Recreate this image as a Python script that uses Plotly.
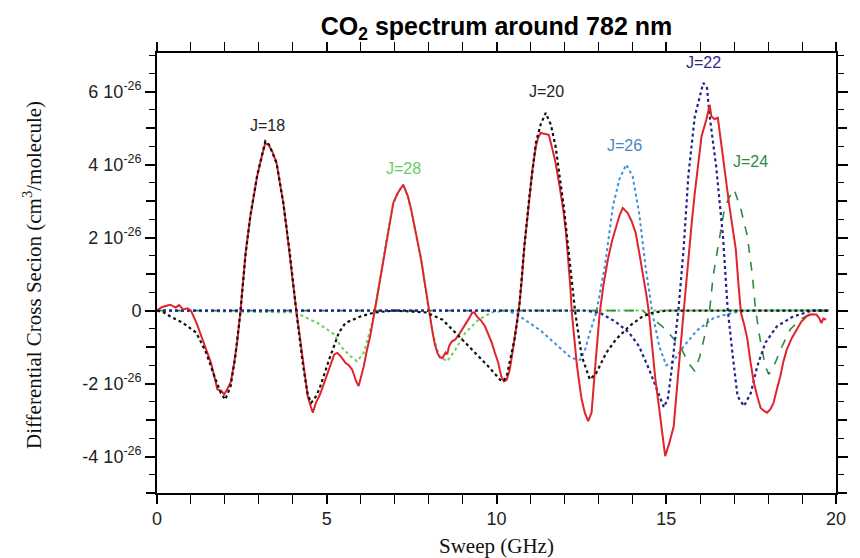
import plotly.graph_objects as go
import numpy as np

SCALE = 1e-26  # values below are in units of 1e-26 cm^3/molecule

# Measured spectrum (red)
meas_x = [0.0, 0.15, 0.39, 0.55, 0.65, 0.77, 0.9, 1.0, 1.16, 1.35, 1.5, 1.59, 1.7, 1.78, 1.9, 1.98, 2.07, 2.17,
          2.27, 2.36, 2.46, 2.61, 2.75, 2.85, 2.95, 3.08, 3.19, 3.28, 3.4, 3.52, 3.62, 3.72, 3.81, 3.91, 4.0, 4.1,
          4.2, 4.3, 4.44, 4.52, 4.59, 4.68, 4.8, 4.93, 5.08, 5.22, 5.31, 5.41, 5.55, 5.65, 5.75, 5.87, 5.94, 6.02,
          6.09, 6.18, 6.28, 6.42, 6.57, 6.76, 6.96, 7.08, 7.15, 7.25, 7.32, 7.39, 7.48, 7.58, 7.68, 7.78, 7.88,
          7.97, 8.05, 8.12, 8.19, 8.26, 8.33, 8.41, 8.5, 8.55, 8.6, 8.68, 8.79, 8.9, 8.99, 9.1, 9.2, 9.28, 9.35,
          9.42, 9.55, 9.66, 9.76, 9.86, 9.95, 10.05, 10.14, 10.22, 10.3, 10.39, 10.48, 10.58, 10.67, 10.75, 10.82,
          10.9, 10.97, 11.05, 11.16, 11.23, 11.3, 11.42, 11.54, 11.64, 11.74, 11.86, 11.98, 12.05, 12.12, 12.17,
          12.22, 12.29, 12.36, 12.44, 12.51, 12.6, 12.7, 12.8, 12.85, 12.9, 12.97, 13.04, 13.15, 13.28, 13.4,
          13.52, 13.62, 13.72, 13.8, 13.86, 13.98, 14.1, 14.22, 14.35, 14.42, 14.49, 14.58, 14.68, 14.78, 14.88,
          14.97, 15.1, 15.22, 15.29, 15.36, 15.44, 15.51, 15.58, 15.65, 15.75, 15.84, 15.94, 16.04, 16.18, 16.25,
          16.28, 16.33, 16.42, 16.52, 16.6, 16.67, 16.76, 16.86, 16.95, 17.05, 17.12, 17.2, 17.3, 17.39, 17.48,
          17.58, 17.68, 17.78, 17.88, 17.97, 18.07, 18.16, 18.26, 18.36, 18.45, 18.55, 18.7, 18.84, 18.98, 19.13,
          19.27, 19.42, 19.5, 19.57, 19.63, 19.71]
meas_y = [0.0, 0.1, 0.16, 0.08, 0.15, 0.03, 0.06, 0.0, -0.33, -0.8, -1.2, -1.43, -1.85, -2.16, -2.2, -2.3, -2.15,
          -1.97, -1.45, -0.88, 0.0, 1.59, 2.58, 3.1, 3.68, 4.2, 4.59, 4.55, 4.35, 4.05, 3.55, 2.95, 2.3, 1.59, 0.8,
          0.03, -0.7, -1.43, -2.35, -2.6, -2.8, -2.53, -2.3, -1.97, -1.6, -1.2, -1.16, -1.25, -1.43, -1.5, -1.62,
          -1.95, -2.07, -1.8, -1.53, -1.1, -0.7, 0.03, 0.85, 1.95, 2.95, 3.2, 3.32, 3.45, 3.3, 3.13, 2.8, 2.31,
          1.9, 1.4, 0.8, 0.21, -0.2, -0.61, -0.95, -1.16, -1.28, -1.3, -1.15, -1.2, -0.98, -0.85, -0.79, -0.65,
          -0.52, -0.35, -0.2, -0.06, -0.05, -0.16, -0.28, -0.43, -0.65, -0.88, -1.15, -1.43, -1.8, -1.94, -1.9,
          -1.62, -1.1, -0.52, 0.12, 0.9, 1.76, 2.45, 3.13, 3.8, 4.5, 4.75, 4.87, 4.85, 4.82, 4.45, 4.05, 3.4,
          2.68, 2.1, 1.4, 0.7, -0.06, -0.75, -1.43, -2.0, -2.44, -2.8, -3.03, -2.8, -2.3, -1.62, -0.85, -0.06,
          0.7, 1.4, 1.9, 2.31, 2.6, 2.81, 2.72, 2.68, 2.45, 2.13, 1.5, 0.85, 0.4, -0.06, -0.9, -1.89, -2.6, -3.35,
          -3.99, -3.6, -3.17, -2.4, -1.53, -0.8, -0.06, 0.7, 1.49, 2.4, 3.22, 4.0, 4.78, 5.23, 5.5, 5.64, 5.32,
          5.25, 5.28, 4.7, 4.14, 3.5, 2.86, 2.3, 1.67, 0.8, -0.06, -0.4, -0.79, -1.4, -1.98, -2.35, -2.67, -2.75,
          -2.8, -2.7, -2.53, -2.15, -1.8, -1.4, -1.07, -0.75, -0.52, -0.3, -0.16, -0.1, -0.11, -0.2, -0.34, -0.22,
          -0.25]

# Simulated J=18 / J=20 (black)
j1820_x = [0.0, 0.2, 0.39, 0.77, 1.16, 1.45, 1.69, 1.88, 2.01, 2.17, 2.3, 2.45, 2.61, 2.75, 2.95, 3.08, 3.19, 3.3,
           3.52, 3.72, 3.91, 4.1, 4.3, 4.44, 4.54, 4.65, 4.78, 5.07, 5.17, 5.36, 5.55, 5.99, 6.42, 7.0, 7.92, 8.41,
           8.89, 9.37, 9.76, 10.1, 10.2, 10.3, 10.53, 10.67, 10.82, 10.97, 11.16, 11.3, 11.45, 11.6, 11.74, 11.98,
           12.17, 12.32, 12.51, 12.75, 12.94, 13.23, 13.52, 13.91, 14.3, 14.59, 15.0, 19.8]
j1820_y = [0.0, -0.05, -0.16, -0.34, -0.61, -1.16, -1.8, -2.26, -2.44, -2.07, -1.3, -0.1, 1.55, 2.6, 3.7, 4.25,
           4.64, 4.55, 4.05, 2.95, 1.59, 0.0, -1.5, -2.3, -2.53, -2.4, -2.16, -1.34, -1.07, -0.6, -0.34, -0.16,
           -0.05, 0.0, -0.05, -0.25, -0.7, -1.16, -1.53, -1.89, -1.94, -1.8, -0.79, 0.1, 1.76, 3.13, 4.6, 5.1,
           5.42, 5.1, 4.5, 2.86, 1.21, -0.06, -1.25, -1.89, -1.71, -1.16, -0.79, -0.43, -0.16, -0.06, 0.0, 0.0]

# Simulated J=28 (light green)
j28_x = [0.0, 4.06, 4.73, 5.22, 5.41, 5.7, 5.89, 6.09, 6.23, 6.38, 6.57, 6.76, 6.96, 7.15, 7.25, 7.39, 7.58, 7.78,
         7.97, 8.12, 8.31, 8.55, 8.79, 9.08, 9.47, 9.86, 10.3, 19.8]
j28_y = [0.0, -0.05, -0.34, -0.65, -0.98, -1.25, -1.39, -1.16, -0.7, -0.16, 0.85, 1.95, 2.95, 3.32, 3.42, 3.13,
         2.31, 1.4, 0.21, -0.61, -1.25, -1.39, -1.07, -0.61, -0.25, -0.05, 0.0, 0.0]

# Simulated J=26 (light blue)
j26_x = [0.0, 10.3, 10.6, 10.92, 11.3, 11.6, 12.0, 12.2, 12.46, 12.6, 12.75, 12.94, 13.19, 13.43, 13.62, 13.82,
         14.01, 14.2, 14.39, 14.59, 14.8, 15.0, 15.2, 15.5, 15.9, 16.4, 17.0, 17.5, 19.8]
j26_y = [0.0, 0.0, -0.1, -0.3, -0.55, -0.8, -1.15, -1.3, -1.35, -1.1, -0.6, -0.05, 1.21, 2.86, 3.6, 4.0, 3.68,
         2.68, 1.21, -0.06, -1.0, -1.5, -1.4, -1.0, -0.55, -0.2, -0.05, 0.0, 0.0]

# Simulated J=22 (navy)
j22_x = [0.0, 12.6, 13.04, 13.5, 13.9, 14.2, 14.49, 14.68, 14.93, 15.05, 15.17, 15.36, 15.51, 15.65, 15.84, 16.09,
         16.2, 16.28, 16.47, 16.67, 16.81, 16.96, 17.1, 17.29, 17.49, 17.68, 17.92, 18.26, 18.74, 19.3, 19.8]
j22_y = [0.0, 0.0, -0.06, -0.3, -0.6, -0.98, -1.6, -2.05, -2.65, -2.4, -1.53, 0.03, 1.67, 3.68, 5.32, 6.24, 6.1,
         5.32, 3.95, 2.04, 0.03, -1.25, -2.35, -2.62, -2.26, -1.53, -0.88, -0.43, -0.16, 0.0, 0.0]

# Simulated J=24 (green)
j24_x = [0.0, 14.3, 14.88, 15.2, 15.46, 15.65, 15.84, 15.99, 16.13, 16.28, 16.38, 16.57, 16.71, 16.85, 17.0, 17.2,
         17.39, 17.54, 17.63, 17.78, 17.92, 18.02, 18.21, 18.41, 18.65, 18.94, 19.4, 19.8]
j24_y = [0.0, 0.0, -0.43, -0.75, -1.07, -1.43, -1.66, -1.25, -0.7, 0.03, 0.94, 2.04, 2.77, 3.1, 3.32, 2.77, 2.04,
         0.94, 0.03, -0.88, -1.53, -1.75, -1.43, -0.98, -0.52, -0.25, 0.0, 0.0]

labels = ["J=18", "J=28", "J=20", "J=26", "J=22", "J=24"]
label_x = [3.26, 7.26, 11.46, 13.78, 16.1, 17.49]
label_y = [5.07, 3.89, 6.0, 4.52, 6.79, 4.08]
label_colors = ["#222222", "#66cc66", "#222222", "#4a86c8", "#2a2a8c", "#2e8b3e"]

y_label_vals = [-4, -2, 0, 2, 4, 6]
y_label_text = ["-4 10<sup>-26</sup>", "-2 10<sup>-26</sup>", "0", "2 10<sup>-26</sup>",
                "4 10<sup>-26</sup>", "6 10<sup>-26</sup>"]
y_unlabelled_major = [-5, -3, -1, 1, 3, 5]

fig = go.Figure()

sims = [
    (j28_x, j28_y, "#66d05a", "dot", 2.0),
    (j26_x, j26_y, "#3d8fd8", "dot", 2.0),
    (j24_x, j24_y, "#2e8b3e", "dash", 1.6),
    (j22_x, j22_y, "#22228c", "dot", 2.2),
]
for xs, ys, col, dash, w in sims:
    fig.add_trace(go.Scatter(x=xs, y=np.array(ys) * SCALE, mode="lines",
                             line=dict(color=col, dash=dash, width=w), hoverinfo="skip"))

fig.add_trace(go.Scatter(x=meas_x, y=np.array(meas_y) * SCALE, mode="lines",
                         line=dict(color="#e0242c", width=2.0), hoverinfo="skip"))
fig.add_trace(go.Scatter(x=j1820_x, y=np.array(j1820_y) * SCALE, mode="lines",
                         line=dict(color="#111111", dash="dot", width=2.2), hoverinfo="skip"))

for t, x, y, c in zip(labels, label_x, label_y, label_colors):
    fig.add_annotation(x=x, y=y * SCALE, text=t, showarrow=False,
                       font=dict(family="Liberation Sans", size=16, color=c))

fig.add_annotation(xref="paper", yref="paper", x=(30 - 157) / 690, y=(493 - 275) / 440,
                   text="Differential Cross Secion (cm<sup>3</sup>/molecule)", textangle=-90,
                   showarrow=False, xanchor="center", yanchor="middle",
                   font=dict(family="Liberation Serif", size=21, color="#111111"))
fig.add_annotation(xref="paper", yref="paper", x=0.5, y=(493 - 546) / 440,
                   text="Sweep (GHz)", showarrow=False, xanchor="center", yanchor="middle",
                   font=dict(family="Liberation Serif", size=21, color="#111111"))

yrange = [-5 * SCALE, 7.06 * SCALE]
fig.update_layout(
    width=860, height=558,
    margin=dict(l=157, r=13, t=53, b=65),
    plot_bgcolor="white", paper_bgcolor="white",
    showlegend=False,
    title=dict(text="<b>CO<sub>2</sub> spectrum around 782 nm</b>", x=0.5, xref="paper", xanchor="center",
               y=1 - 26 / 558, yref="container", yanchor="middle",
               font=dict(family="Liberation Sans", size=25, color="black")),
    xaxis=dict(range=[0, 20], showline=True, linecolor="black", linewidth=1.6, mirror="allticks",
               ticks="outside", ticklen=9, tickwidth=1.6, tickcolor="black", tick0=0, dtick=5,
               minor=dict(dtick=1, tick0=0, ticks="outside", ticklen=5, tickwidth=1.3, tickcolor="black"),
               tickfont=dict(family="Liberation Sans", size=18, color="#222222"),
               showgrid=False, zeroline=False),
    yaxis=dict(range=yrange, showline=True, linecolor="black", linewidth=1.6,
               mirror="allticks", ticks="outside", ticklen=10, tickwidth=1.6, tickcolor="black",
               tickvals=[v * SCALE for v in y_label_vals], ticktext=y_label_text,
               minor=dict(dtick=0.5 * SCALE, tick0=0, ticks="outside", ticklen=6, tickwidth=1.3,
                          tickcolor="black"),
               tickfont=dict(family="Liberation Sans", size=18, color="#222222"),
               showgrid=False, zeroline=False),
    yaxis2=dict(range=yrange, overlaying="y", side="left", showline=False, mirror="allticks",
                ticks="outside", ticklen=10, tickwidth=1.6, tickcolor="black",
                tickvals=[v * SCALE for v in y_unlabelled_major], showticklabels=False,
                showgrid=False, zeroline=False),
)
# invisible helper trace so the second y axis (unlabelled major ticks) is drawn
fig.add_trace(go.Scatter(x=[0], y=[0], yaxis="y2", mode="markers", marker=dict(opacity=0),
                         hoverinfo="skip"))

fig.write_html("out.html")
